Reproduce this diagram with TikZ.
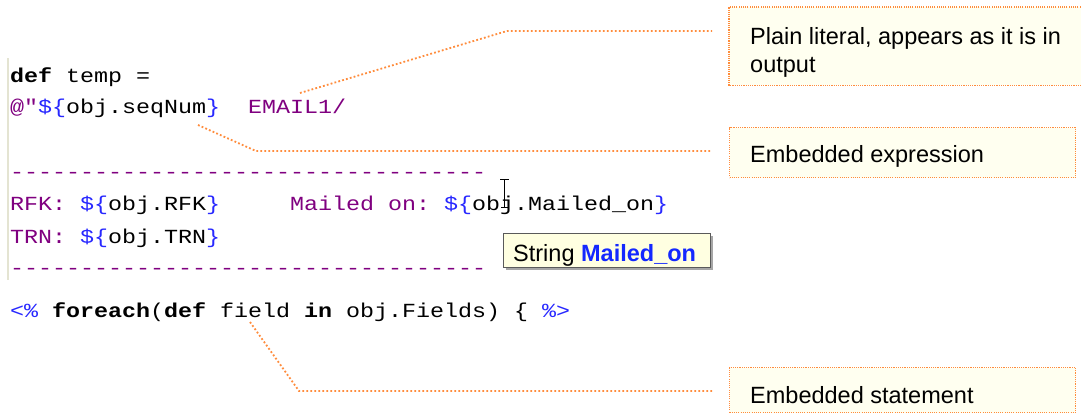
\documentclass[tikz,border=0pt]{standalone}
\usepackage{fontspec}
\setmainfont{Liberation Sans}
\newfontfamily\codefont[FakeStretch=1.1665,Ligatures=TeXOff]{Liberation Mono}
\definecolor{lit}{RGB}{128,0,128}
\definecolor{dlr}{RGB}{40,40,255}
\definecolor{lead}{RGB}{255,140,60}
\definecolor{ivory}{RGB}{255,255,240}
\definecolor{tipbg}{RGB}{255,255,225}
\definecolor{tipedge}{RGB}{90,90,90}
\definecolor{tipblue}{RGB}{20,40,255}
\definecolor{margin}{RGB}{228,228,210}
\begin{document}
\begin{tikzpicture}[x=1pt,y=-1pt,
  code/.style={anchor=base west,inner sep=0pt,font=\codefont\fontsize{20}{24}\selectfont},
  note/.style={anchor=base west,inner sep=0pt,font=\fontsize{23.5}{28}\selectfont,align=left},
  callout/.style={fill=ivory,anchor=north west,inner sep=0pt},
  boxline/.style={draw=lead,line width=1.1pt,dash pattern=on 1.1pt off 1.1pt},
  leader/.style={draw=lead,line width=1.8pt,dash pattern=on 1.8pt off 2.2pt},
]
\useasboundingbox (0,0) rectangle (1081,413);
\fill[white] (0,0) rectangle (1081,413);

% editor margin
\draw[margin,line width=1.5pt] (8,58) -- (8,280);

% code lines
\node[code] (l1) at (10,82) {\textbf{def} temp =};
\node[code] (l2) at (10,113) {\textcolor{lit}{@"}\textcolor{dlr}{\$\{}obj.seqNum\textcolor{dlr}{\}}~~\textcolor{lit}{EMAIL1/}};
\node[code,text=lit] (l3) at (10,178) {----------------------------------};
\node[code] (l4) at (10,210) {\textcolor{lit}{RFK:}~\textcolor{dlr}{\$\{}obj.RFK\textcolor{dlr}{\}}~~~~~\textcolor{lit}{Mailed~on:}~\textcolor{dlr}{\$\{}obj.Mailed\_on\textcolor{dlr}{\}}};
\node[code] (l5) at (10,243) {\textcolor{lit}{TRN:}~\textcolor{dlr}{\$\{}obj.TRN\textcolor{dlr}{\}}};
\node[code,text=lit] (l6) at (10,274) {----------------------------------};
\node[code] (l7) at (10,317) {\textcolor{dlr}{<\%}~\textbf{foreach}(\textbf{def}~field~\textbf{in}~obj.Fields)~\{~\textcolor{dlr}{\%>}};

% text cursor
\draw[black,line width=1pt] (500,179) -- (509,179) (504.5,179) -- (504.5,207) (501,207) -- (508,207);

% tooltip
\fill[black!35] (506,236) rectangle (713,270);
\node[draw=tipedge,fill=tipbg,line width=1pt,anchor=north west,inner sep=0pt,minimum width=207pt,minimum height=34pt] (tip) at (503,233) {};
\node[anchor=base west,inner sep=0pt,font=\fontsize{23.5}{26}\selectfont] (tiptext) at (513,261) {String \textcolor{tipblue}{\bfseries Mailed\_on}};

% callout boxes
\node[callout,minimum width=360pt,minimum height=78pt] (box1) at (729,7) {};
\draw[boxline] (box1.north east) -- (box1.north west) -- (box1.south west) -- (box1.south east);
\node[callout,boxline,minimum width=346pt,minimum height=50pt] (box2) at (729,127) {};
\node[callout,boxline,minimum width=346pt,minimum height=45pt] (box3) at (729,367) {};

\node[note] (n1) at (750,72) {Plain literal, appears as it is in\\output};
\node[note] (n2) at (750,162) {Embedded expression};
\node[note] (n3) at (750,403) {Embedded statement};

% leaders
\coordinate (a1) at (300,93); \coordinate (b1) at (507,31); \coordinate (c1) at (712,31);
\draw[leader] (a1) -- (b1) -- (c1);
\coordinate (a2) at (198,125); \coordinate (b2) at (256,151); \coordinate (c2) at (712,151);
\draw[leader] (a2) -- (b2) -- (c2);
\coordinate (a3) at (250,322); \coordinate (b3) at (299,391); \coordinate (c3) at (713,391);
\draw[leader] (a3) -- (b3) -- (c3);
\end{tikzpicture}
\end{document}
